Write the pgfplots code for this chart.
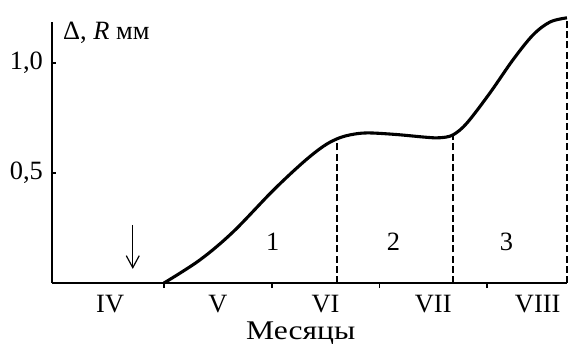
\documentclass[border=0pt]{standalone}
\usepackage{fontspec}
\setmainfont{Liberation Serif}
\usepackage{pgfplots}
\pgfplotsset{compat=1.18}
\usetikzlibrary{arrows.meta}
\newcommand{\lbl}{\fontsize{13.2}{15.5}\selectfont}
\begin{document}
\begin{tikzpicture}[font=\lbl]
\begin{axis}[
  scale only axis,
  width=257.5pt, height=130.5pt,
  xmin=3.96, xmax=8.742,
  ymin=0, ymax=1.186,
  clip=false,
  axis x line=bottom,
  axis y line=left,
  axis line style={line width=0.85pt, -},
  xtick={4.5,5.5,6.5,7.5,8.47},
  xticklabels={IV,V,VI,VII,VIII},
  major x tick style={draw=none},
  minor xtick={5,6,7,8},
  minor x tick style={line width=0.8pt, black},
  minor tick length=2.5pt,
  xtick align=outside,
  ytick={0.5,1.0},
  yticklabels={{0,5},{1,0}},
  ytick align=inside,
  major y tick style={line width=0.8pt, black},
  major tick length=2pt,
  x tick label style={font=\lbl, yshift=-0.5pt},
  y tick label style={font=\lbl, xshift=-1pt},
  /pgf/number format/assume math mode=true,
]
% growth curve
\addplot[line width=1.55pt, black, smooth, tension=0.55] coordinates {
  (5.00,0.000) (5.334,0.105) (5.641,0.232) (6.012,0.420) (6.291,0.548)
  (6.476,0.620) (6.606,0.655) (6.727,0.673) (6.885,0.682) (7.15,0.675)
  (7.44,0.662) (7.563,0.660) (7.683,0.673) (7.813,0.727) (8.027,0.864)
  (8.24,1.014) (8.426,1.127) (8.584,1.186) (8.742,1.205)
};
% period boundaries
\addplot[line width=0.65pt, black, dash pattern=on 3.5pt off 1.6pt] coordinates {(6.606,0) (6.606,0.655)};
\addplot[line width=0.65pt, black, dash pattern=on 3.5pt off 1.6pt] coordinates {(7.683,0) (7.683,0.673)};
\addplot[line width=0.65pt, black, dash pattern=on 3.5pt off 1.6pt] coordinates {(8.742,0) (8.742,1.205)};
% arrow
\draw[line width=0.6pt, -{Straight Barb[length=6pt,width=6.5pt]}] (axis cs:4.71,0.264) -- (axis cs:4.71,0.064);
% period numbers
\node[font=\lbl] at (axis cs:6.01,0.186) {1};
\node[font=\lbl] at (axis cs:7.13,0.186) {2};
\node[font=\lbl] at (axis cs:8.18,0.186) {3};
% axis titles
\node[font=\lbl, anchor=base west, inner sep=0pt] at (axis cs:4.06,1.105) {Δ, \textit{R} мм};
\node[anchor=base, inner sep=0pt] at (axis cs:6.27,-0.259)
  {\scalebox{1.17}[1]{\fontsize{13.5}{16}\selectfont Месяцы}};
\end{axis}
\pgfresetboundingbox
\path (-26pt,-30pt) rectangle (258pt,141.5pt);
\end{tikzpicture}
\end{document}
